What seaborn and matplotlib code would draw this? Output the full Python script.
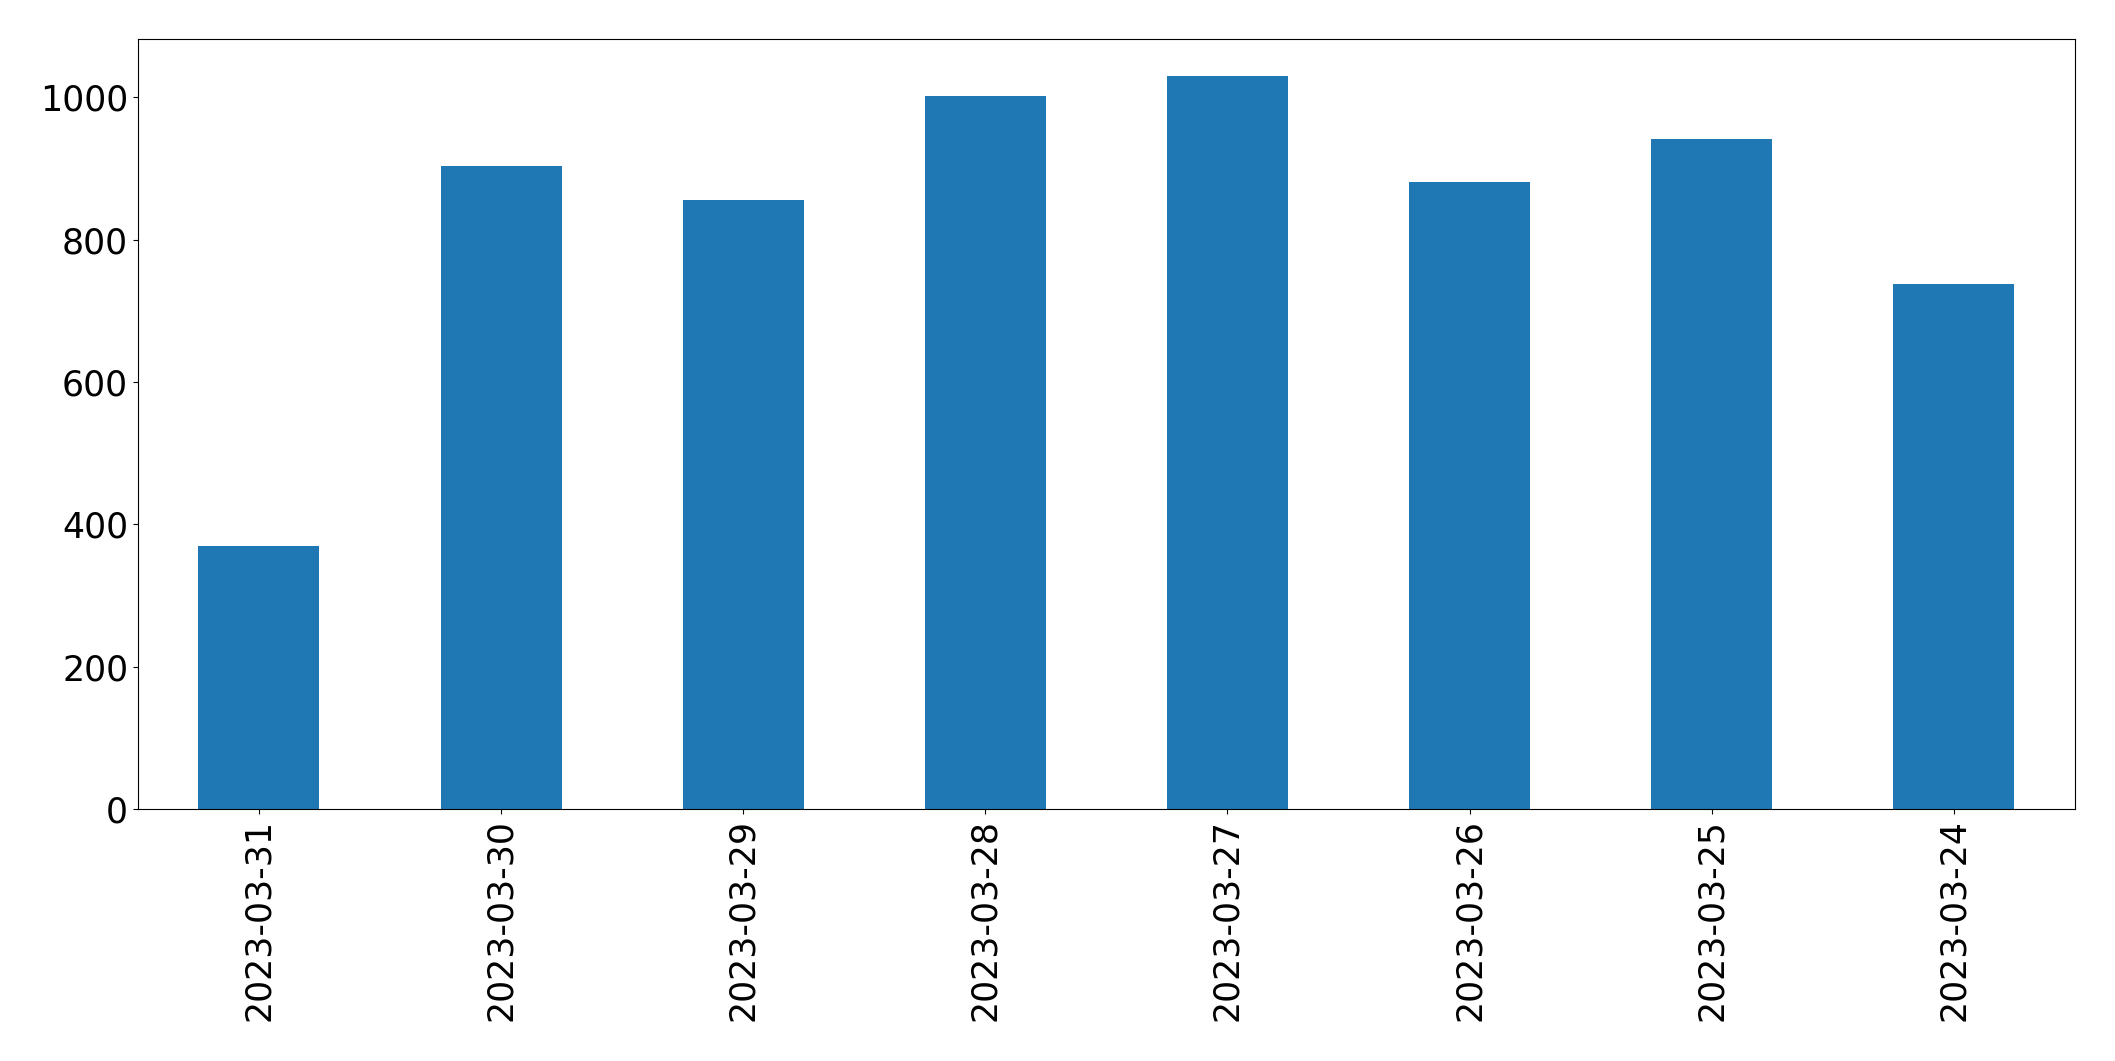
import matplotlib
matplotlib.use('Agg')
import matplotlib.pyplot as plt
import seaborn as sns
import pandas as pd

# Daily counts, newest first (as in the reference)
dates = ['2023-03-31', '2023-03-30', '2023-03-29', '2023-03-28',
         '2023-03-27', '2023-03-26', '2023-03-25', '2023-03-24']
counts = [369, 904, 856, 1002, 1030, 881, 941, 738]

df = pd.DataFrame({'date': dates, 'count': counts})

fig = plt.figure(figsize=(21.15, 10.61), dpi=100)
ax = fig.add_axes([0.0652, 0.2375, 0.9158, 0.7255])

sns.barplot(x='date', y='count', data=df, color='#1f77b4', width=0.5,
            saturation=1, linewidth=0, ax=ax, order=dates)

ax.set_xlim(-0.5, len(dates) - 0.5)
ax.set_ylim(0, max(counts) * 1.05)
ax.set_xlabel('')
ax.set_ylabel('')
for s in ax.spines.values():
    s.set_color('black')
ax.tick_params(axis='both', labelsize=25, color='black', labelcolor='black')
ax.tick_params(axis='x', labelrotation=90)

fig.savefig('out.png', dpi=100)
